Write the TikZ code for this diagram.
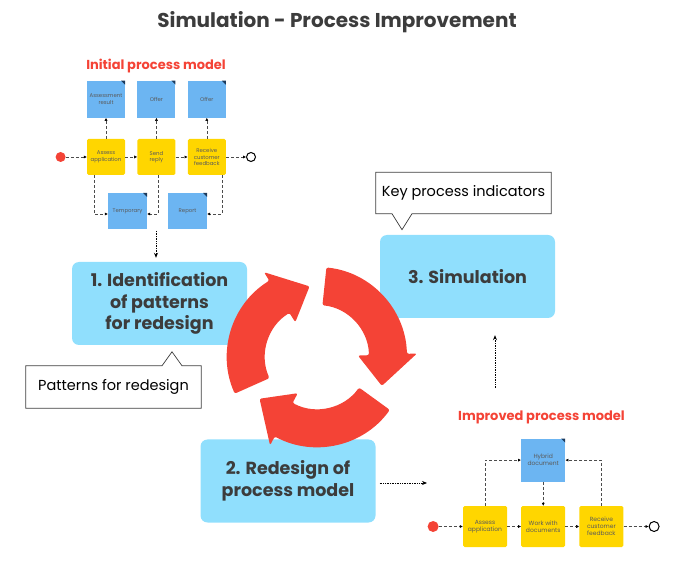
\documentclass[tikz,border=0pt]{standalone}
\usepackage{fontspec}
\setmainfont{Poppins}
\usetikzlibrary{positioning, arrows.meta}

\definecolor{stageblue}{HTML}{90DFFD}
\definecolor{docblue}{HTML}{6CB5F2}
\definecolor{taskyellow}{HTML}{FFD600}
\definecolor{cyclered}{HTML}{F44336}
\definecolor{darktext}{HTML}{3C3C3C}
\definecolor{smalltext}{HTML}{5A5A5A}
\definecolor{foldnavy}{HTML}{1B3A5C}

\tikzstyle{stage} = [rectangle, rounded corners=7pt, minimum width=175pt, minimum height=83pt, align=center, fill=stageblue, text=darktext, font=\fontsize{17.5}{21.5}\selectfont\bfseries]
\tikzstyle{callout} = [rectangle, minimum width=175pt, minimum height=41pt, text=black, font=\fontsize{14.5}{16}\selectfont]
\tikzstyle{calloutline} = [draw=black!75, line width=0.7pt, fill=white]
\tikzstyle{task} = [rectangle, rounded corners=1.5pt, fill=taskyellow, minimum width=38pt, minimum height=36pt, inner sep=1pt, align=center, text=smalltext, font=\fontsize{5.4}{6.4}\selectfont]
\tikzstyle{docsheet} = [rectangle, fill=docblue, minimum width=38pt, minimum height=37pt, inner sep=1pt, align=center, text=smalltext, font=\fontsize{5.4}{6.4}\selectfont, path picture={\fill[foldnavy] ([xshift=-4pt]path picture bounding box.north east) -- (path picture bounding box.north east) -- ([yshift=-4pt]path picture bounding box.north east) -- cycle;}]
\tikzstyle{startev} = [circle, fill=cyclered, minimum size=10pt, inner sep=0pt]
\tikzstyle{endev} = [circle, draw=black, line width=1pt, fill=white, minimum size=9pt, inner sep=0pt]
\tikzstyle{flow} = [densely dashed, line width=0.45pt, draw=black!70, -{Latex[length=3pt,width=3pt,color=black]}]
\tikzstyle{link} = [densely dotted, line width=0.7pt, -{Stealth[length=5pt,width=4pt]}]
\tikzstyle{modeltitle} = [text=cyclered, font=\fontsize{13}{15}\selectfont\bfseries]

\begin{document}
\begin{tikzpicture}[x=1pt, y=1pt, node distance=12pt]
 \useasboundingbox (0,0) rectangle (675,560);

 \node (title) at (337,538) [text=darktext, font=\fontsize{20}{22}\selectfont\bfseries] {Simulation - Process Improvement};

 % initial process model
 \node (inittitle) at (156,494) [modeltitle] {Initial process model};
 \node (assess) at (106,403) [task] {Assess\\application};
 \node (sendreply) [task, right=of assess] {Send\\reply};
 \node (receive) [task, right=of sendreply] {Receive\\customer\\feedback};
 \node (result) [docsheet, above=21pt of assess] {Assessment\\result};
 \node (offera) [docsheet, above=21pt of sendreply] {Offer};
 \node (offerb) [docsheet, above=21pt of receive] {Offer};
 \node (temporary) at (127.5,349) [docsheet, minimum width=39pt, minimum height=36pt] {Temporary};
 \node (report) at (187.5,349) [docsheet, minimum width=39pt, minimum height=36pt] {Report};
 \node (initstart) [startev, left=21pt of assess] {};
 \node (initend) [endev, right=20pt of receive] {};

 \draw[flow] (initstart) -- (assess);
 \draw[flow] (assess) -- (sendreply);
 \draw[flow] (sendreply) -- (receive);
 \draw[flow] (receive) -- (initend);
 \draw[flow] (assess) -- (result);
 \draw[flow] (sendreply) -- (offera);
 \draw[flow] (receive) -- (offerb);
 \draw[flow] ([xshift=-12pt]assess.south) |- ([yshift=-3pt]temporary.west);
 \draw[flow] ([xshift=2pt]sendreply.south) |- ([yshift=-3pt]temporary.east);
 \draw[flow] ([xshift=15pt]receive.south) |- ([yshift=-3pt]report.east);

 % stages
 \node (identify) at (159.5,256.5) [stage] {1. Identification\\of patterns\\for redesign};
 \node (simulate) at (467.5,283.5) [stage] {3. Simulation};
 \node (redesign) at (288,79) [stage] {2. Redesign of\\process model};

 % callouts
 \node (kpi) at (463.5,367) [callout] {};
 \draw[calloutline] (kpi.north west) -- (kpi.north east) -- (kpi.south east) -- ([xshift=-51.5pt]kpi.south) -- ++(-10pt,-16pt) -- ++(-10pt,16pt) -- (kpi.south west) -- cycle;
 \node at (kpi) [callout] {Key process indicators};
 \node (patterns) at (113.5,173) [callout, minimum height=42pt] {};
 \draw[calloutline] (patterns.north west) -- ([xshift=48.5pt]patterns.north) -- ++(10pt,14pt) -- ++(10pt,-14pt) -- (patterns.north east) -- (patterns.south east) -- (patterns.south west) -- cycle;
 \node at (patterns) [callout] {Patterns for redesign};

 % cycle
 \begin{scope}[shift={(317,203)}]
 \fill[cyclered, rounded corners=2pt] (204:90) arc[start angle=204, end angle=122, radius=90] -- (122:100) -- (96:71) -- (122:41) -- (122:52) arc[start angle=122, end angle=204, radius=52] -- cycle;
 \fill[cyclered, rounded corners=2pt] (84:90) arc[start angle=84, end angle=2, radius=90] -- (2:100) -- (-24:71) -- (2:41) -- (2:52) arc[start angle=2, end angle=84, radius=52] -- cycle;
 \fill[cyclered, rounded corners=2pt] (-36:90) arc[start angle=-36, end angle=-118, radius=90] -- (-118:100) -- (-144:71) -- (-118:41) -- (-118:52) arc[start angle=-118, end angle=-36, radius=52] -- cycle;
 \end{scope}

 % improved process model
 \node (improvedtitle) at (541.5,143) [modeltitle] {Improved process model};
 \node (newassess) at (485,33.5) [task, minimum width=44pt, minimum height=41pt, font=\fontsize{6}{7}\selectfont] {Assess\\application};
 \node (workdocs) [task, minimum width=44pt, minimum height=41pt, font=\fontsize{6}{7}\selectfont, right=13.8pt of newassess] {Work with\\documents};
 \node (newreceive) [task, minimum width=44pt, minimum height=41pt, font=\fontsize{6}{7}\selectfont, right=13.8pt of workdocs] {Receive\\customer\\feedback};
 \node (hybrid) [docsheet, minimum width=44pt, minimum height=43pt, font=\fontsize{6}{7}\selectfont, above=24pt of workdocs] {Hybrid\\document};
 \node (newstart) [startev, minimum size=11pt, left=24pt of newassess] {};
 \node (newend) [endev, minimum size=10pt, right=25pt of newreceive] {};

 \draw[flow] (newstart) -- (newassess);
 \draw[flow] (newassess) -- (workdocs);
 \draw[flow] (workdocs) -- (newreceive);
 \draw[flow] (newreceive) -- (newend);
 \draw[flow] (newassess.north) |- (hybrid.west);
 \draw[flow] (newreceive.north) |- (hybrid.east);
 \draw[flow] (hybrid) -- (workdocs);

 % links between stages
 \coordinate (modelout) at (156,329);
 \coordinate (improvedin) at (427,77);
 \coordinate (improvedout) at (495,172);
 \draw[link, shorten >=4pt] (modelout) -- (modelout |- identify.north);
 \draw[link, shorten <=4pt] (redesign.east |- improvedin) -- (improvedin);
 \draw[link, shorten >=17pt] (improvedout) -- (improvedout |- simulate.south);
\end{tikzpicture}
\end{document}
